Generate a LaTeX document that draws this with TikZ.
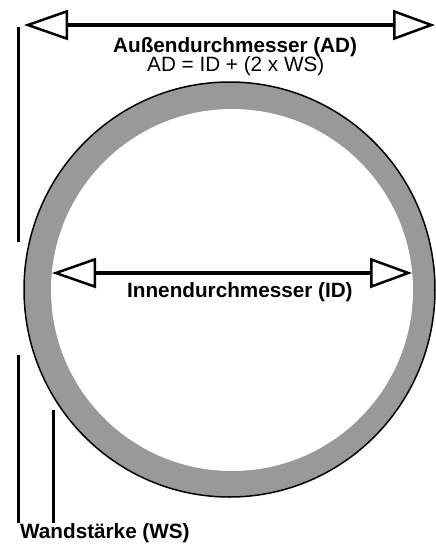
\documentclass[tikz,border=0pt]{standalone}
\usepackage{fontspec}
\setmainfont{Liberation Sans}
\usetikzlibrary{arrows.meta}
\definecolor{ringgray}{RGB}{153,153,153}
\begin{document}
\begin{tikzpicture}[x=1pt,y=-1pt,
  dimline/.style={line width=3.5pt,
    {Triangle[open,length=44pt,width=30pt,line width=2.5pt]}-{Triangle[open,length=42pt,width=30pt,line width=2.5pt]}},
  tickline/.style={line width=3pt},
  lbl/.style={inner sep=0pt, anchor=base west, font=\fontsize{20.7}{24}\selectfont\bfseries},
  formula/.style={inner sep=0pt, anchor=base west, font=\fontsize{20.7}{24}\selectfont},
]
\useasboundingbox (0,0) rectangle (436,550);
% ring
\draw[line width=1.5pt, fill=ringgray] (229.5,289.5) ellipse [x radius=205.5, y radius=207.5];
\fill[white] (232,290) circle [radius=181];
% coordinates
\coordinate (adL) at (24,25);
\coordinate (adR) at (435,25);
\coordinate (idL) at (52,273);
\coordinate (idR) at (412,273);
\coordinate (t1a) at (18,27);
\coordinate (t1b) at (18,242);
\coordinate (t2a) at (18,355);
\coordinate (t2b) at (18,523);
\coordinate (t3a) at (53,410);
\coordinate (t3b) at (53,523);
% dimension lines
\draw[dimline] (adL) -- (adR);
\draw[dimline] (idL) -- (idR);
% ticks
\draw[tickline] (t1a) -- (t1b);
\draw[tickline] (t2a) -- (t2b);
\draw[tickline] (t3a) -- (t3b);
% labels
\node[lbl, text depth=0pt] (adlbl) at (113,52) {Außendurchmesser (AD)};
\node[formula, text height=14pt] (adform) at (147,71) {AD = ID + (2 x WS)};
\node[lbl] (idlbl) at (127,297) {Innendurchmesser (ID)};
\node[lbl] (wslbl) at (20,538) {Wandstärke (WS)};
\end{tikzpicture}
\end{document}
